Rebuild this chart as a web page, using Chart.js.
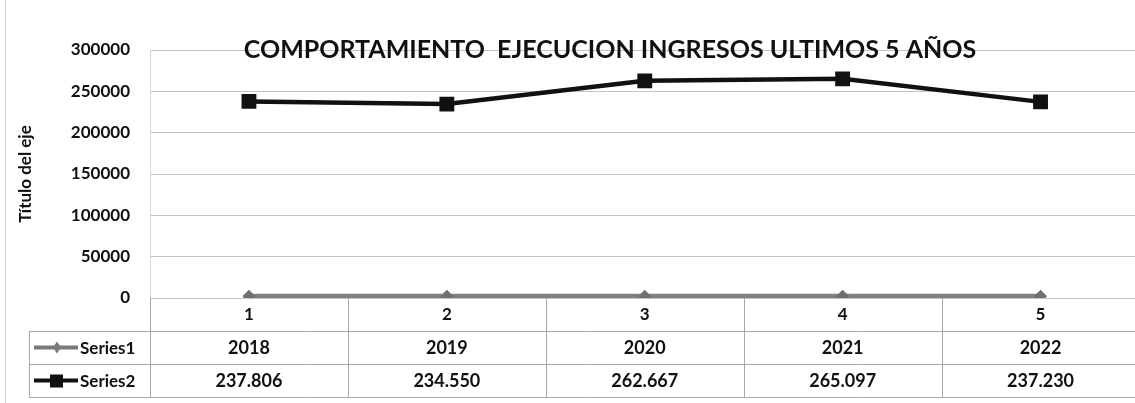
<!DOCTYPE html>
<html><head><meta charset="utf-8">
<script src="https://cdn.jsdelivr.net/npm/chart.js@4.4.1/dist/chart.umd.min.js"></script>
<style>
html,body{margin:0;padding:0;background:#fff;overflow:hidden;width:1135px;height:403px}
#wrap{position:relative;width:1150px;height:403px}
</style></head>
<body><div id="wrap"><canvas id="c" width="1150" height="403"></canvas></div>
<script>
const categories = ['1', '2', '3', '4', '5'];
const series1Name = 'Series1';
const series2Name = 'Series2';
const series1 = [2018, 2019, 2020, 2021, 2022];
const series2 = [237806, 234550, 262667, 265097, 237230];
const yTicks = [0, 50000, 100000, 150000, 200000, 250000, 300000];
const chartTitle = 'COMPORTAMIENTO  EJECUCION INGRESOS ULTIMOS 5 AÑOS';
const yTitle = 'Título del eje';

const FONT = "Lato, 'Open Sans', sans-serif";
const fmt = v => v >= 10000 ? String(v).replace(/\B(?=(\d{3})+(?!\d))/g, '.') : String(v);

const TABLE_AXIS_H = 33, ROW_H = 33;

const overlay = {
  id: 'overlay',
  afterDraw(chart) {
    const ctx = chart.ctx, a = chart.chartArea, x = chart.scales.x;
    const n = categories.length;
    const band = (x.getPixelForValue(1) - x.getPixelForValue(0));
    const t0 = a.bottom + TABLE_AXIS_H, t1 = t0 + ROW_H, t2 = t1 + ROW_H;
    const legL = 29;
    ctx.save();
    ctx.strokeStyle = '#a8a8a8'; ctx.lineWidth = 1;
    ctx.beginPath();
    [t0, t1, t2].forEach(y => { ctx.moveTo(legL, Math.round(y) + 0.5); ctx.lineTo(a.right, Math.round(y) + 0.5); });
    for (let i = 0; i <= n; i++) {
      const xx = Math.round(x.getPixelForValue(0) - band / 2 + i * band) + 0.5;
      ctx.moveTo(xx, a.bottom); ctx.lineTo(xx, t2);
    }
    ctx.moveTo(legL + 0.5, t0); ctx.lineTo(legL + 0.5, t2);
    ctx.stroke();
    ctx.strokeStyle = '#d4d4d4';
    ctx.beginPath();
    ctx.moveTo(5.5, 0); ctx.lineTo(5.5, 403);
    ctx.stroke();

    ctx.fillStyle = '#111';
    ctx.font = 'bold 18px ' + FONT;
    ctx.textAlign = 'center'; ctx.textBaseline = 'middle';
    for (let i = 0; i < n; i++) {
      const cx = x.getPixelForValue(i);
      ctx.fillText(fmt(series1[i]), cx, (t0 + t1) / 2 + 1);
      ctx.fillText(fmt(series2[i]), cx, (t1 + t2) / 2 + 1);
    }
    ctx.font = 'bold 17px ' + FONT;
    const keys = [
      {y: (t0 + t1) / 2, col: '#7a7a7a', name: series1Name, shape: 'diamond'},
      {y: (t1 + t2) / 2, col: '#111', name: series2Name, shape: 'square'}
    ];
    keys.forEach(k => {
      ctx.strokeStyle = k.col; ctx.fillStyle = k.col; ctx.lineWidth = 4;
      ctx.beginPath(); ctx.moveTo(34, k.y); ctx.lineTo(78, k.y); ctx.stroke();
      ctx.beginPath();
      if (k.shape === 'diamond') {
        ctx.moveTo(57, k.y - 6); ctx.lineTo(61, k.y); ctx.lineTo(57, k.y + 6); ctx.lineTo(53, k.y);
        ctx.closePath(); ctx.fill();
      } else {
        ctx.fillRect(50, k.y - 6, 13, 13);
      }
      ctx.fillStyle = '#111';
      ctx.textAlign = 'left';
      ctx.fillText(k.name, 80, k.y + 1);
    });

    ctx.font = 'bold 25px ' + FONT;
    ctx.textAlign = 'center'; ctx.textBaseline = 'middle';
    ctx.fillStyle = '#111';
    ctx.fillText(chartTitle, 610, 50);
    ctx.restore();
  }
};

new Chart(document.getElementById('c'), {
  type: 'line',
  data: {
    labels: categories,
    datasets: [
      {label: series1Name, data: series1, borderColor: '#808080', backgroundColor: '#6f6f6f',
       borderWidth: 5, pointStyle: 'rectRot', pointRadius: 6.5, pointBorderWidth: 0, tension: 0},
      {label: series2Name, data: series2, borderColor: '#111', backgroundColor: '#111',
       borderWidth: 4.5, pointStyle: 'rect', pointRadius: 10.5, pointBorderWidth: 0, tension: 0}
    ]
  },
  options: {
    responsive: false, animation: false,
    layout: {padding: {top: 50, left: 5, right: 5, bottom: 72}},
    plugins: {legend: {display: false}, tooltip: {enabled: false}, title: {display: false}},
    scales: {
      x: {
        offset: true,
        grid: {display: false, drawTicks: false},
        border: {display: false},
        ticks: {color: '#111', font: {family: FONT, size: 17, weight: 'bold'}, padding: 6},
        afterFit(s) { s.height = TABLE_AXIS_H; }
      },
      y: {
        min: 0, max: 300000,
        afterBuildTicks(s) { s.ticks = yTicks.map(v => ({value: v})); },
        grid: {color: '#c4c4c4', drawTicks: false, lineWidth: 1},
        border: {display: true, color: '#d8d8d8'},
        ticks: {color: '#111', font: {family: FONT, size: 17, weight: 'bold'}, padding: 20,
                callback: v => String(v)},
        title: {display: true, text: yTitle, color: '#111', font: {family: FONT, size: 17, weight: 'bold'}, padding: {top: 10, bottom: 0}},
        afterFit(s) { s.width = 145; }
      }
    }
  },
  plugins: [overlay]
});
</script>
</body></html>
